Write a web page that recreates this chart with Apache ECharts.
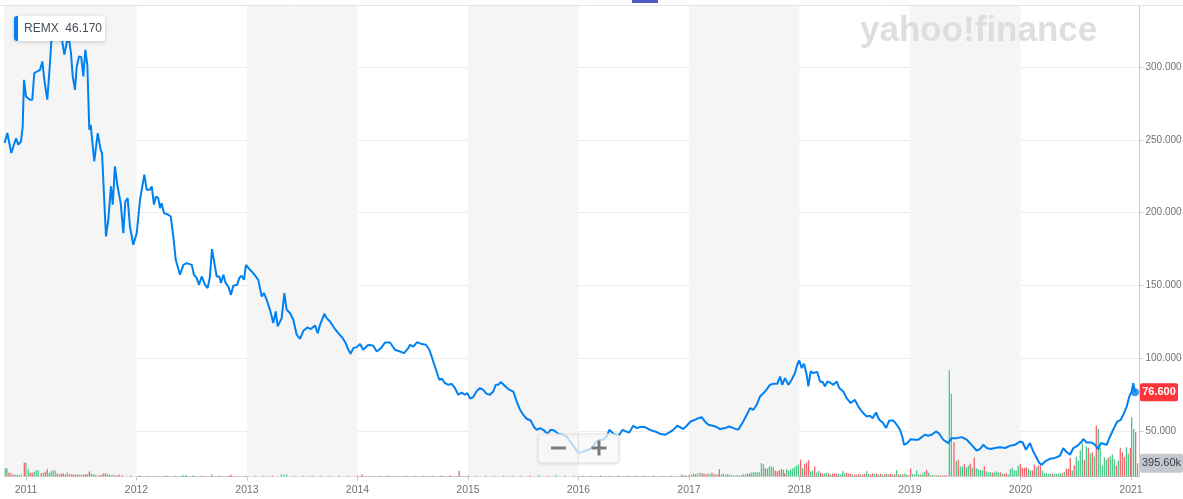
<!DOCTYPE html>
<html>
<head>
<meta charset="utf-8">
<script src="https://cdn.jsdelivr.net/npm/echarts@6/dist/echarts.min.js"></script>
<style>
html,body{margin:0;padding:0;background:#fff;}
#chart{width:1183px;height:499px;}
</style>
</head>
<body>
<div id="chart"></div>
<script>
// ---- data (dates as decimal years) ----
const ticker = 'REMX';
const legendValue = '46.170';
const yearTicks = [2011, 2012, 2013, 2014, 2015, 2016, 2017, 2018, 2019, 2020, 2021];
const priceTicks = [50, 100, 150, 200, 250, 300];
const xMin = 2010.801, xMax = 2021.077;
const priceMin = 18.75, priceMax = 342.2;
const volMaxK = 14145;
const bandYears = [[2010.801, 2012], [2013, 2014], [2015, 2016], [2017, 2018], [2019, 2020]];

const priceYears = [
2010.807,2010.831,2010.867,2010.885,2010.910,2010.930,2010.955,2010.970,2010.982,2011.000,
2011.018,2011.036,2011.057,2011.075,2011.102,2011.127,2011.148,2011.166,2011.193,2011.217,
2011.238,2011.262,2011.283,2011.308,2011.326,2011.347,2011.368,2011.386,2011.407,2011.423,
2011.443,2011.459,2011.480,2011.500,2011.519,2011.537,2011.555,2011.573,2011.586,2011.600,
2011.618,2011.649,2011.676,2011.688,2011.724,2011.745,2011.769,2011.785,2011.805,2011.826,
2011.844,2011.857,2011.881,2011.899,2011.920,2011.941,2011.971,2012.002,2012.032,2012.071,
2012.092,2012.122,2012.138,2012.158,2012.176,2012.197,2012.213,2012.228,2012.249,2012.288,
2012.310,2012.333,2012.355,2012.394,2012.424,2012.454,2012.500,2012.520,2012.545,2012.566,
2012.590,2012.620,2012.644,2012.665,2012.683,2012.726,2012.749,2012.765,2012.786,2012.807,
2012.831,2012.855,2012.876,2012.912,2012.930,2012.952,2012.973,2012.991,2013.027,2013.057,
2013.102,2013.133,2013.154,2013.178,2013.208,2013.238,2013.260,2013.278,2013.314,2013.338,
2013.359,2013.389,2013.419,2013.450,2013.480,2013.510,2013.546,2013.579,2013.615,2013.640,
2013.661,2013.700,2013.721,2013.751,2013.790,2013.826,2013.862,2013.893,2013.917,2013.938,
2013.962,2013.993,2014.023,2014.052,2014.098,2014.143,2014.174,2014.213,2014.249,2014.294,
2014.339,2014.385,2014.421,2014.460,2014.475,2014.505,2014.541,2014.581,2014.620,2014.650,
2014.671,2014.701,2014.740,2014.762,2014.792,2014.822,2014.852,2014.882,2014.912,2014.943,
2014.973,2014.994,2015.018,2015.048,2015.079,2015.109,2015.138,2015.169,2015.199,2015.229,
2015.251,2015.274,2015.299,2015.329,2015.365,2015.410,2015.441,2015.471,2015.500,2015.531,
2015.567,2015.597,2015.622,2015.652,2015.682,2015.718,2015.748,2015.781,2015.817,2015.862,
2015.893,2015.923,2015.953,2015.998,2016.029,2016.074,2016.119,2016.165,2016.195,2016.225,
2016.255,2016.279,2016.309,2016.339,2016.369,2016.400,2016.430,2016.460,2016.496,2016.527,
2016.557,2016.602,2016.647,2016.692,2016.738,2016.783,2016.822,2016.858,2016.894,2016.919,
2016.948,2016.979,2017.015,2017.054,2017.084,2017.115,2017.145,2017.175,2017.214,2017.251,
2017.281,2017.326,2017.365,2017.401,2017.446,2017.491,2017.528,2017.552,2017.582,2017.613,
2017.643,2017.658,2017.688,2017.703,2017.733,2017.763,2017.799,2017.824,2017.844,2017.869,
2017.899,2017.929,2017.959,2017.980,2017.998,2018.020,2018.041,2018.065,2018.080,2018.101,
2018.125,2018.161,2018.186,2018.210,2018.231,2018.252,2018.276,2018.306,2018.337,2018.360,
2018.396,2018.427,2018.463,2018.502,2018.532,2018.572,2018.608,2018.638,2018.662,2018.692,
2018.722,2018.753,2018.783,2018.813,2018.849,2018.880,2018.910,2018.930,2018.946,2018.976,
2019.006,2019.045,2019.075,2019.106,2019.136,2019.166,2019.196,2019.235,2019.265,2019.301,
2019.347,2019.377,2019.422,2019.468,2019.513,2019.558,2019.603,2019.633,2019.663,2019.694,
2019.730,2019.769,2019.814,2019.860,2019.905,2019.950,2019.995,2020.020,2020.050,2020.086,
2020.116,2020.140,2020.170,2020.192,2020.222,2020.267,2020.312,2020.357,2020.387,2020.412,
2020.448,2020.478,2020.514,2020.554,2020.568,2020.599,2020.644,2020.674,2020.704,2020.726,
2020.749,2020.780,2020.810,2020.846,2020.876,2020.907,2020.930,2020.961,2020.985,2021.006,
2021.021,2021.036
];
const priceValues = [
247.7,254.6,240.9,242.0,251.0,246.6,248.8,259.0,291.2,279.7,
281.0,277.5,277.5,295.8,296.9,298.0,303.8,291.0,277.5,302.7,
327.8,334.8,325.5,323.3,318.7,308.4,316.4,321.0,309.5,293.5,
284.3,300.3,307.2,306.8,293.5,311.8,301.5,256.9,260.3,248.8,
235.1,254.6,243.1,240.9,183.6,195.0,218.0,205.4,231.7,219.1,
218.0,206.5,185.9,207.6,209.9,190.4,177.9,185.9,208.8,226.0,
215.7,215.7,218.0,205.4,211.0,209.9,203.0,206.5,199.6,198.5,
197.3,183.6,167.6,157.3,164.1,165.3,164.1,157.3,155.0,150.4,
156.1,150.4,148.1,156.1,174.9,156.1,156.1,151.6,157.3,151.6,
149.2,143.5,149.7,150.4,155.0,156.6,153.8,164.1,160.7,158.4,
153.8,142.4,144.7,140.1,133.2,124.1,132.1,121.8,127.5,144.7,
133.2,131.0,126.4,116.1,113.3,118.8,121.1,120.0,122.5,117.2,
122.9,130.5,127.5,125.2,120.7,117.2,114.2,110.4,105.8,103.0,
106.9,107.6,109.7,105.8,109.2,108.5,104.6,106.9,110.8,110.8,
105.8,104.6,103.5,106.9,109.2,108.0,111.0,109.7,109.2,105.8,
101.2,94.3,85.2,85.9,82.9,81.7,82.4,79.5,74.9,76.4,
74.9,76.0,72.2,73.3,77.5,79.5,78.3,75.5,74.9,77.1,
81.7,81.7,83.6,81.2,78.8,77.1,70.2,64.6,61.1,58.4,
57.2,52.7,50.8,52.0,50.8,48.1,50.8,50.3,48.1,47.4,
46.2,42.8,39.8,34.8,35.5,36.6,38.3,42.8,44.0,44.0,
46.2,50.8,48.6,47.4,47.4,50.8,49.7,49.0,53.6,52.0,
52.7,52.7,50.8,49.7,48.1,47.4,49.0,50.8,53.6,52.7,
51.3,53.6,56.5,57.7,58.8,59.5,56.5,54.3,53.6,52.7,
51.3,52.0,53.1,52.0,50.8,56.5,61.8,65.7,64.6,68.0,
73.7,74.9,77.1,76.0,81.7,82.4,82.4,87.4,81.7,86.3,
81.7,85.2,89.8,95.5,98.4,93.2,96.2,88.6,80.6,90.9,
89.8,90.5,84.0,83.6,80.6,84.0,83.3,81.7,84.0,79.5,
77.1,72.6,69.2,71.4,66.8,62.7,60.0,60.4,58.8,62.7,
57.7,55.8,52.0,57.2,57.2,54.3,50.8,46.2,40.5,41.7,
44.4,44.0,44.0,45.8,47.4,46.7,47.4,49.7,48.1,44.0,
41.7,45.1,45.1,45.8,44.0,40.5,36.6,37.6,40.5,38.3,
37.6,38.3,38.9,38.3,39.8,40.5,42.8,42.1,37.1,41.7,
35.9,32.5,28.0,26.8,29.1,30.9,31.5,33.0,38.3,35.9,
33.7,38.3,39.8,42.8,44.5,42.1,42.1,40.5,37.6,41.7,
41.2,40.5,46.2,52.0,56.5,57.7,61.1,66.8,73.7,77.1,
82.9,76.6
];

// weekly/monthly volume, in thousands; volUp: 1 = up week (green), 0 = down (red)
const volYears = [
2010.813,2010.828,2010.846,2010.864,2010.885,2010.903,2010.921,2010.939,2010.957,2010.985,
2011.000,2011.021,2011.039,2011.057,2011.075,2011.093,2011.111,2011.138,2011.157,2011.175,
2011.193,2011.211,2011.229,2011.247,2011.265,2011.283,2011.301,2011.319,2011.338,2011.356,
2011.374,2011.392,2011.410,2011.428,2011.446,2011.464,2011.482,2011.500,2011.519,2011.537,
2011.555,2011.573,2011.591,2011.609,2011.627,2011.645,2011.663,2011.681,2011.700,2011.718,
2011.736,2011.754,2011.772,2011.790,2011.808,2011.826,2011.844,
2011.870,2011.950,2012.030,2012.110,2012.190,2012.270,2012.350,2012.420,2012.450,2012.510,
2012.590,2012.680,2012.750,2012.830,2012.855,2012.990,2013.070,2013.150,2013.230,2013.310,
2013.335,2013.360,2013.430,2013.510,2013.590,2013.670,2013.750,2013.830,2013.910,2014.000,
2014.040,2014.120,2014.200,2014.280,2014.360,2014.440,2014.520,2014.600,2014.680,2014.760,
2014.840,2014.920,2015.000,2015.080,2015.160,2015.240,2015.320,2015.400,2015.480,2015.560,
2015.640,2015.720,2015.800,2015.880,2015.960,2016.040,2016.120,2016.200,2016.280,2016.360,
2016.440,2016.520,2016.600,2016.680,2016.760,2016.840,
2016.934,2016.955,2016.973,2017.003,2017.024,2017.042,2017.060,2017.078,2017.100,2017.118,
2017.136,2017.154,2017.172,2017.190,2017.208,2017.226,2017.244,2017.263,2017.275,2017.293,
2017.311,2017.329,2017.347,2017.365,2017.383,2017.401,2017.419,2017.438,2017.456,2017.474,
2017.492,2017.510,2017.528,2017.546,2017.564,2017.582,2017.600,2017.618,2017.637,2017.655,
2017.673,2017.691,2017.709,2017.727,2017.745,2017.763,2017.781,2017.799,2017.817,2017.836,
2017.854,2017.866,2017.884,2017.902,2017.920,2017.938,2017.956,2017.974,2017.992,2018.011,
2018.029,2018.047,2018.065,2018.083,2018.101,2018.119,2018.137,2018.155,2018.173,2018.192,
2018.210,2018.228,2018.246,2018.264,2018.282,2018.300,2018.318,2018.336,2018.355,2018.373,
2018.391,2018.409,2018.427,2018.445,2018.463,2018.481,2018.499,2018.517,2018.535,2018.554,
2018.572,2018.590,2018.608,2018.626,2018.644,2018.662,2018.680,2018.698,2018.717,2018.735,
2018.753,2018.771,2018.789,2018.807,2018.825,2018.843,2018.861,2018.879,2018.898,2018.916,
2018.934,2018.952,2018.970,2018.988,2019.006,2019.024,2019.042,2019.060,2019.079,2019.097,
2019.115,2019.133,2019.151,2019.169,2019.187,2019.205,2019.223,2019.241,2019.259,
2019.278,2019.296,2019.314,2019.332,2019.356,2019.374,2019.398,2019.419,2019.437,2019.456,
2019.474,2019.492,2019.510,2019.528,2019.546,2019.564,2019.582,2019.600,2019.618,2019.637,
2019.655,2019.673,2019.691,2019.709,2019.727,2019.745,2019.763,2019.781,2019.799,2019.818,
2019.836,2019.854,2019.872,2019.890,2019.908,2019.926,2019.944,2019.962,2019.980,2019.999,
2020.017,2020.035,2020.053,2020.071,2020.089,2020.107,2020.125,2020.143,2020.161,2020.180,
2020.198,2020.216,2020.234,2020.252,2020.270,2020.288,2020.306,2020.324,2020.342,2020.360,
2020.379,2020.397,2020.415,2020.433,2020.451,2020.469,2020.487,2020.505,2020.523,2020.541,
2020.560,2020.578,2020.596,2020.614,2020.632,2020.650,2020.668,2020.686,2020.704,2020.722,
2020.741,2020.759,2020.777,2020.795,2020.813,2020.831,2020.849,2020.867,2020.885,2020.903,
2020.922,2020.940,2020.958,2020.976,2020.994,2021.006,2021.024,2021.042,2021.060
];
const volK = [
250,250,120,100,60,50,50,50,60,410,
410,220,110,110,140,190,190,100,110,140,
220,110,160,190,170,90,60,90,100,60,
120,60,70,70,60,60,50,50,60,70,
70,150,100,70,50,30,30,50,90,100,
70,60,40,50,30,30,50,
40,30,30,20,20,30,20,50,50,40,
20,60,30,20,50,20,20,20,30,70,
60,60,20,20,30,20,30,20,20,30,
70,20,20,30,20,20,20,30,20,30,
40,170,30,20,20,20,30,20,20,30,
50,20,40,20,30,20,20,30,20,30,
20,30,20,30,20,20,
60,30,30,50,60,90,70,90,110,100,
80,60,90,70,110,60,70,50,220,60,
90,50,70,60,40,30,30,40,30,40,
70,70,90,90,120,130,130,130,130,400,
370,250,240,300,310,280,170,160,190,220,
210,100,220,170,210,240,290,330,360,500,
250,370,420,490,150,170,300,120,170,120,
80,100,110,100,60,90,90,80,80,60,
160,100,110,90,80,60,60,50,80,60,
60,80,160,80,60,90,80,90,60,80,
60,70,90,60,90,60,70,190,70,60,
60,80,60,30,240,70,60,190,60,50,
90,140,200,110,40,40,40,30,40,
30,30,30,30,3200,2480,1030,460,500,300,
300,380,280,330,380,260,560,250,220,200,
180,300,160,120,130,120,120,160,120,130,
80,80,100,60,220,260,180,180,320,380,
260,260,280,230,180,180,360,280,330,360,
180,100,100,80,80,80,80,80,80,100,
100,130,230,230,560,180,330,600,480,780,
1000,500,900,860,680,730,600,1530,1430,860,
330,580,500,560,600,660,520,330,480,860,
730,580,880,680,860,1780,1430,1330,395.6
];
const volUp = [
1,1,0,0,0,1,1,1,1,0,
1,1,0,0,1,1,1,0,1,0,
0,1,1,1,1,0,1,0,0,0,
1,0,0,0,1,0,1,1,0,0,
0,0,1,1,1,1,0,0,0,0,
1,1,1,1,0,0,0,
0,0,1,1,0,0,1,1,1,1,
0,1,1,0,0,1,0,1,0,1,
1,1,0,0,1,0,1,0,1,0,
0,1,1,0,1,0,1,1,0,0,
0,0,0,1,0,1,1,0,1,0,
1,0,1,0,1,0,1,0,1,1,
0,1,0,1,1,0,
0,1,1,0,1,1,0,1,1,0,
0,0,1,1,0,0,1,0,0,1,
1,1,0,1,1,0,1,0,1,1,
1,1,1,0,1,1,1,1,1,1,
1,0,1,1,1,1,0,0,0,0,
1,0,1,1,1,1,1,1,1,0,
1,0,0,0,1,1,0,1,1,0,
0,1,1,0,1,0,0,0,1,1,
1,1,0,0,0,1,0,0,0,1,
0,0,1,1,0,0,1,0,1,0,
1,0,1,0,0,1,0,1,0,1,
0,1,1,0,0,1,1,1,1,0,
1,1,0,1,0,1,1,0,1,
0,0,0,0,1,1,0,1,0,1,
1,0,1,1,0,1,0,1,1,1,
1,0,1,1,1,0,1,1,1,0,
1,0,0,1,1,1,1,1,1,0,
0,0,0,1,1,0,0,1,0,0,
1,1,1,1,1,0,1,1,1,1,
0,1,0,0,0,1,0,1,1,1,
1,0,1,0,1,0,1,0,1,1,
1,1,1,0,1,1,1,0,1,0,
0,0,1,1,0,1,1,0,1
];

// ---- chart ----
const BLUE = '#0081f2';
const GREEN = '#4cc98d';
const RED = '#f4646b';
const FONT = 'Liberation Sans, Arial, sans-serif';

const chart = echarts.init(document.getElementById('chart'), null, {renderer: 'canvas'});

const priceData = priceYears.map((y, i) => [y, priceValues[i]]);
const volData = volYears.map((y, i) => ({
  value: [y, volK[i]],
  itemStyle: {color: volUp[i] ? GREEN : RED}
}));
const lastIdx = priceValues.length - 1;
const lastVol = volK[volK.length - 1];

chart.setOption({
  animation: false,
  backgroundColor: '#ffffff',
  grid: {left: 4, right: 43.5, top: 5.5, bottom: 22.5, containLabel: false, outerBoundsMode: 'none'},
  xAxis: {
    type: 'value', min: xMin, max: xMax,
    axisLine: {show: true, lineStyle: {color: '#c9c9c9', width: 1}},
    axisTick: {show: true, length: 4, lineStyle: {color: '#c9c9c9'}, customValues: yearTicks},
    axisLabel: {
      customValues: yearTicks, color: '#6f7378', fontSize: 10.5, fontFamily: FONT, margin: 8,
      formatter: v => String(Math.round(v))
    },
    splitLine: {show: false}
  },
  yAxis: [{
    type: 'value', position: 'right', min: priceMin, max: priceMax, splitNumber: 6,
    axisLine: {show: true, lineStyle: {color: '#c9c9c9', width: 1}},
    axisTick: {show: true, length: 4, lineStyle: {color: '#c9c9c9'}, customValues: priceTicks},
    axisLabel: {
      customValues: priceTicks, color: '#6f7378', fontSize: 10, fontFamily: FONT, margin: 6,
      formatter: v => v.toFixed(3)
    },
    splitLine: {show: true, lineStyle: {color: '#ececec', width: 1}}
  }, {
    type: 'value', min: 0, max: volMaxK, show: false,
    splitLine: {show: false}
  }],
  series: [{
    name: 'bands', type: 'line', data: [], z: 0, silent: true,
    markArea: {
      silent: true,
      itemStyle: {color: '#f5f5f5'},
      data: bandYears.map(b => [{xAxis: b[0]}, {xAxis: b[1]}])
    }
  }, {
    name: 'Volume', type: 'bar', yAxisIndex: 1, data: volData,
    barWidth: 1.3, z: 2, silent: true, large: false
  }, {
    name: ticker, type: 'line', data: priceData, z: 3,
    showSymbol: false, symbol: 'none', smooth: false,
    lineStyle: {color: BLUE, width: 2}, silent: true
  }, {
    name: 'last', type: 'scatter', data: [[priceYears[lastIdx], priceValues[lastIdx]]],
    symbolSize: 8, itemStyle: {color: BLUE}, z: 4, silent: true
  }]
});

// overlay labels placed through the chart's own scales
const yPrice = chart.convertToPixel({yAxisIndex: 0}, priceValues[lastIdx]);
const yVol = chart.convertToPixel({yAxisIndex: 1}, lastVol);
const xRight = chart.convertToPixel({xAxisIndex: 0}, xMax);
const Z = 50;

chart.setOption({
  graphic: [
    // top border line
    {type: 'line', z: Z, shape: {x1: 0, y1: 5.5, x2: 1183, y2: 5.5}, style: {stroke: '#e4e4e4', lineWidth: 1}, silent: true},
    // small blue marker at top
    {type: 'rect', z: Z, shape: {x: 632, y: 0, width: 26, height: 3}, style: {fill: '#4f5bc4'}, silent: true},
    // watermark
    {type: 'text', z: Z, x: 860, y: 14, style: {text: 'yahoo!finance', fill: '#dedede', font: 'bold 35px "Liberation Sans", Arial, sans-serif'}, silent: true},
    // legend box
    {type: 'rect', z: Z, shape: {x: 14, y: 16, width: 91, height: 25, r: 3},
      style: {fill: '#ffffff', shadowBlur: 4, shadowColor: 'rgba(0,0,0,0.18)', shadowOffsetY: 1}, silent: true},
    {type: 'rect', z: Z + 1, shape: {x: 14, y: 16, width: 4, height: 25, r: [3, 0, 0, 3]}, style: {fill: BLUE}, silent: true},
    {type: 'text', z: Z + 1, x: 24, y: 28.5, style: {text: ticker + '  ' + legendValue, fill: '#464e56', font: '12px "Liberation Sans", Arial, sans-serif', verticalAlign: 'middle'}, silent: true},
    // last price label
    {type: 'rect', z: Z, shape: {x: xRight + 0.5, y: yPrice - 9, width: 38, height: 18, r: 2}, style: {fill: '#ff333a'}, silent: true},
    {type: 'text', z: Z + 1, x: xRight + 19.5, y: yPrice, style: {text: priceValues[lastIdx].toFixed(3), fill: '#ffffff', font: 'bold 11px "Liberation Sans", Arial, sans-serif', align: 'center', verticalAlign: 'middle'}, silent: true},
    // last volume label
    {type: 'rect', z: Z, shape: {x: xRight + 0.5, y: yVol - 9.5, width: 43, height: 19, r: 2}, style: {fill: '#c5c8ce'}, silent: true},
    {type: 'text', z: Z + 1, x: xRight + 22, y: yVol, style: {text: lastVol.toFixed(2) + 'k', fill: '#3c4147', font: '11px "Liberation Sans", Arial, sans-serif', align: 'center', verticalAlign: 'middle'}, silent: true},
    // zoom controls
    {type: 'rect', z: Z, shape: {x: 538, y: 434, width: 81, height: 29, r: 3},
      style: {fill: 'rgba(255,255,255,0.72)', stroke: '#e2e2e2', lineWidth: 1, shadowBlur: 3, shadowColor: 'rgba(0,0,0,0.10)', shadowOffsetY: 1}, silent: true},
    {type: 'line', z: Z + 1, shape: {x1: 578.5, y1: 434, x2: 578.5, y2: 463}, style: {stroke: '#e2e2e2', lineWidth: 1}, silent: true},
    {type: 'rect', z: Z + 1, shape: {x: 551, y: 446.5, width: 15, height: 3}, style: {fill: '#7a7a7a'}, silent: true},
    {type: 'rect', z: Z + 1, shape: {x: 591.5, y: 446.5, width: 15, height: 3}, style: {fill: '#7a7a7a'}, silent: true},
    {type: 'rect', z: Z + 1, shape: {x: 597.5, y: 440.5, width: 3, height: 15}, style: {fill: '#7a7a7a'}, silent: true}
  ]
});
</script>
</body>
</html>
